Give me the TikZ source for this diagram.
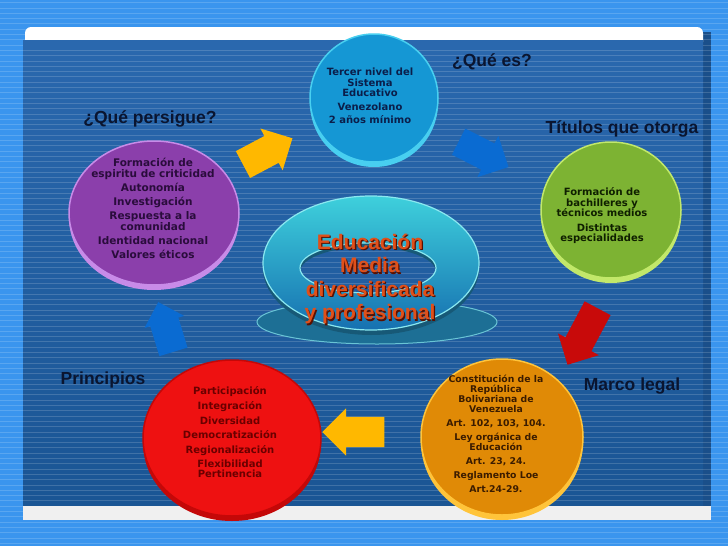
\documentclass[tikz,border=0pt]{standalone}
\usepackage{fontspec}
\setmainfont{Liberation Sans}
\newfontfamily\dejavu{DejaVu Sans}
\usetikzlibrary{shapes.geometric, shapes.arrows}

\definecolor{fondo}{HTML}{3A95EE}
\definecolor{panelarriba}{HTML}{2A68AE}
\definecolor{panelabajo}{HTML}{1A5594}
\definecolor{panelsombra}{HTML}{1A4F8A}
\definecolor{cianF}{HTML}{1597D4}
\definecolor{cianB}{HTML}{48CFF0}
\definecolor{cianT}{HTML}{0B1E4A}
\definecolor{moradoF}{HTML}{8B3FAB}
\definecolor{moradoB}{HTML}{C88BE8}
\definecolor{moradoT}{HTML}{2A0C3C}
\definecolor{verdeF}{HTML}{7DB333}
\definecolor{verdeB}{HTML}{C2E86A}
\definecolor{verdeT}{HTML}{0F1F00}
\definecolor{naranjaF}{HTML}{E08A06}
\definecolor{naranjaB}{HTML}{FFC43A}
\definecolor{naranjaT}{HTML}{3B1C00}
\definecolor{rojoF}{HTML}{EE1111}
\definecolor{rojoB}{HTML}{C40808}
\definecolor{rojoT}{HTML}{6A0000}
\definecolor{anilloA}{HTML}{3ED0DC}
\definecolor{anilloB}{HTML}{1670B0}
\definecolor{anilloBorde}{HTML}{8AE8F0}
\definecolor{anilloSombra}{HTML}{1D6F95}
\definecolor{titulo}{HTML}{E0501A}
\definecolor{tituloS}{HTML}{5A1000}
\definecolor{etiqueta}{HTML}{0A1530}
\definecolor{amarillo}{HTML}{FFB800}
\definecolor{azulflecha}{HTML}{0A6BD2}
\definecolor{rojoflecha}{HTML}{C80A0A}

\begin{document}
\begin{tikzpicture}[x=1pt, y=-1pt,
    disc/.style 2 args={ellipse, inner sep=0pt, fill=#1, draw=#2, line width=1.5pt,
        preaction={fill=#2, transform canvas={yshift=-5pt}}},
    disctexto/.style={align=center, inner sep=0pt,
        font=\dejavu\bfseries\fontsize{10}{10.5}\selectfont},
    pregunta/.style={font=\bfseries\fontsize{17.5}{20}\selectfont, text=etiqueta},
    flecha/.style={single arrow, draw=none, inner xsep=0pt, inner ysep=15pt,
        single arrow head extend=8.5pt},
    raya/.style={white, opacity=0.16, line width=0.6pt}
  ]
  \useasboundingbox (0,0) rectangle (728,546);

  % fondo y panel
  \fill[fondo] (0,0) rectangle (728,546);
  \fill[panelsombra] (700,32) rectangle (711,520);
  \shade[top color=panelarriba, bottom color=panelabajo] (23,40) rectangle (703,506);
  \foreach \y in {2.5,7.8,...,546}
    \draw[raya] (0,\y) -- (728,\y);
  \fill[white, rounded corners=6pt] (25,27) rectangle (703,48);
  \fill[panelarriba] (23,40) rectangle (703,50);
  \fill[gray!12] (23,506) rectangle (711,520);

  % anillo central
  \fill[anilloSombra] (377,322) ellipse (120 and 22);
  \draw[anilloBorde!70!anilloSombra, line width=1pt] (377,322) ellipse (120 and 22);
  \fill[anilloSombra!80!black, even odd rule] (371,268) ellipse (108 and 67) (368,272) ellipse (68 and 25);
  \path[even odd rule, top color=anilloA, bottom color=anilloB, draw=anilloBorde, line width=1.2pt]
    (371,263) ellipse (108 and 67) (368,268) ellipse (68 and 25);

  \node[font=\bfseries\fontsize{21}{23.5}\selectfont, text=tituloS, align=center] (centro-s) at (371.3,280.3)
    {Educación\\Media\\diversificada\\y profesional};
  \node[font=\bfseries\fontsize{21}{23.5}\selectfont, text=titulo, align=center] (centro) at (370,279)
    {Educación\\Media\\diversificada\\y profesional};

  % discos
  \node[disc={cianF}{cianB}, minimum width=128pt, minimum height=128pt] (que) at (374,98) {};
  \node[disc={moradoF}{moradoB}, minimum width=170pt, minimum height=144pt] (persigue) at (154,213) {};
  \node[disc={verdeF}{verdeB}, minimum width=140pt, minimum height=136pt] (titulos) at (611,210) {};
  \node[disc={naranjaF}{naranjaB}, minimum width=162pt, minimum height=156pt] (marco) at (502,437) {};
  \node[disc={rojoF}{rojoB}, minimum width=178pt, minimum height=156pt] (principios) at (232,438) {};

  \node[disctexto, text=cianT] (que-t) at (370,96)
    {Tercer nivel del\\Sistema\\Educativo\\[3pt]Venezolano\\[3pt]2 años mínimo};
  \node[disctexto, text=moradoT, font=\dejavu\bfseries\fontsize{10.5}{11}\selectfont] (persigue-t) at (153,208)
    {Formación de\\espiritu de criticidad\\[3pt]Autonomía\\[3pt]Investigación\\[3pt]Respuesta a la\\comunidad\\[3pt]Identidad nacional\\[3pt]Valores éticos};
  \node[disctexto, text=verdeT] (titulos-t) at (602,216)
    {Formación de\\bachilleres y\\técnicos medios\\[4pt]Distintas\\especialidades};
  \node[disctexto, text=naranjaT, font=\dejavu\bfseries\fontsize{9.3}{10}\selectfont] (marco-t) at (496,434)
    {Constitución de la\\República\\Bolivariana de\\Venezuela\\[4pt]Art. 102, 103, 104.\\[4pt]Ley orgánica de\\Educación\\[4pt]Art. 23, 24.\\[4pt]Reglamento Loe\\[4pt]Art.24-29.};
  \node[disctexto, text=rojoT, font=\dejavu\bfseries\fontsize{10}{10}\selectfont] (principios-t) at (230,432)
    {Participación\\[4.5pt]Integración\\[4.5pt]Diversidad\\[4.5pt]Democratización\\[4.5pt]Regionalización\\[4.5pt]Flexibilidad\\Pertinencia};

  % preguntas
  \node[pregunta] (l-que) at (492,62) {¿Qué es?};
  \node[pregunta] (l-persigue) at (150,119) {¿Qué persigue?};
  \node[pregunta] (l-titulos) at (622,129) {Títulos que otorga};
  \node[pregunta] (l-marco) at (632,386) {Marco legal};
  \node[pregunta] (l-principios) at (103,380) {Principios};

  % flechas
  \node[flecha, fill=amarillo, minimum height=56pt, rotate=28] (f1) at (261,155) {};
  \node[flecha, fill=azulflecha, minimum height=56pt, inner ysep=14.5pt, rotate=-27] (f2) at (477,151) {};
  \node[flecha, fill=rojoflecha, minimum height=64pt, inner ysep=14.5pt, rotate=-118] (f3) at (586,330) {};
  \node[flecha, fill=azulflecha, minimum height=52pt, inner ysep=14.5pt,
        single arrow head extend=6pt, rotate=107] (f4) at (168,334) {};
  \node[flecha, fill=amarillo, minimum height=62pt, rotate=180] (f5) at (361,432) {};
\end{tikzpicture}
\end{document}
